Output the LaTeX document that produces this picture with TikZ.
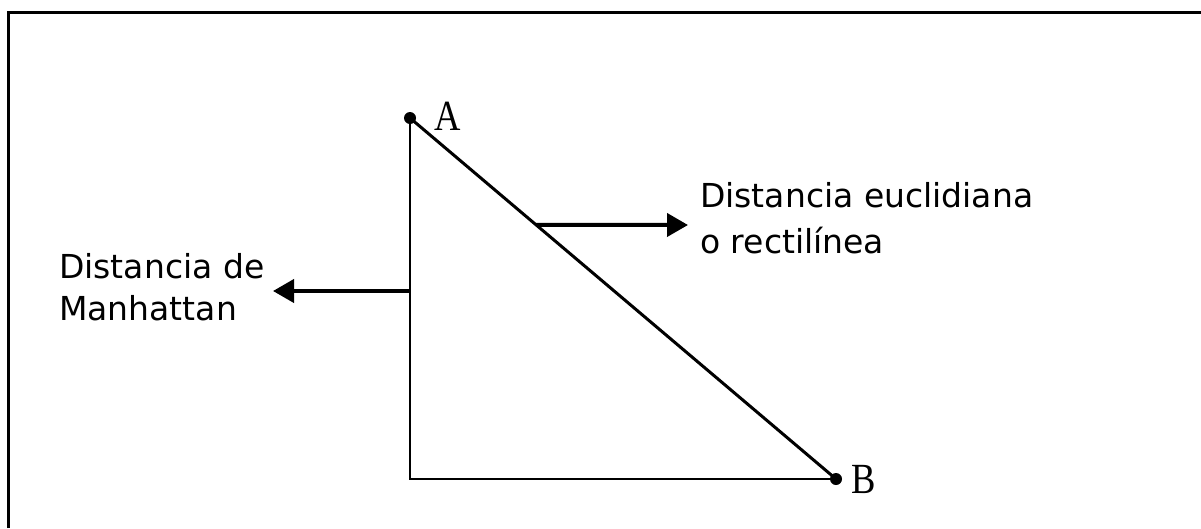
\documentclass[tikz,border=0pt]{standalone}
\usepackage{fontspec}
\setmainfont{Liberation Serif}
\newfontfamily\labelsans{DejaVu Sans}
\newfontfamily\pointserif[FakeStretch=0.85]{Liberation Serif}
\usetikzlibrary{arrows.meta,calc}
\begin{document}
\begin{tikzpicture}[x=1pt,y=-1pt,
  frameline/.style={line width=3pt},
  legline/.style={line width=2pt},
  diagline/.style={line width=3pt},
  pointdot/.style={circle,fill=black,inner sep=0pt,minimum size=12pt},
  pointlabel/.style={anchor=base west,inner sep=0pt,font=\pointserif\fontsize{43}{43}\selectfont},
  textlabel/.style={anchor=base west,inner sep=0pt,align=left},
  callout/.style={line width=4pt,-{Triangle[length=21pt,width=23pt]}}]
\useasboundingbox (0,0) rectangle (1201,528);
\fill[white] (0,0) rectangle (1201,528);
% frame (top and left edges)
\coordinate (fl) at (8,528);
\coordinate (ftl) at (8,12);
\coordinate (ftr) at (1201,12);
\draw[frameline] (fl) -- (ftl) -- (ftr);
% points
\node[pointdot] (A) at (410,118) {};
\node[pointdot] (B) at (836,479) {};
\coordinate (C) at (410,479);
\draw[legline] (A.center) -- (C) -- (B.center);
\draw[diagline] (A.center) -- (B.center);
\node[pointlabel] (la) at (434,130) {A};
\node[pointlabel] (lb) at (851,493) {B};
% labels
\node[textlabel,font=\labelsans\fontsize{33}{46}\selectfont] (eu) at (700,253) {Distancia euclidiana\\o rectilínea};
\node[textlabel,font=\labelsans\fontsize{33}{42}\selectfont] (mh) at (59,320) {Distancia de\\Manhattan};
% callout arrows
\coordinate (e0) at ($(A.center)!0.296!(B.center)$);
\coordinate (e1) at (688,225);
\draw[callout] (e0) -- (e1);
\coordinate (m0) at (410,291);
\coordinate (m1) at (273,291);
\draw[callout] (m0) -- (m1);
\end{tikzpicture}
\end{document}
